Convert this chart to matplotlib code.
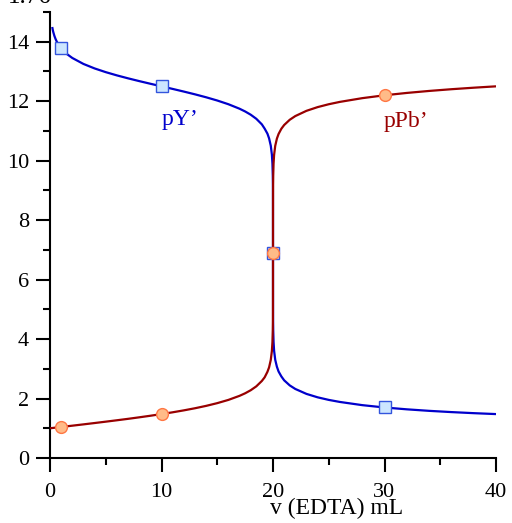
import matplotlib
matplotlib.use("Agg")
import matplotlib.pyplot as plt
from matplotlib.ticker import MultipleLocator

# Volumes of EDTA (mL) and curve values
v_pb = [0, 0.5, 1, 2, 3, 4, 5, 6, 7, 8, 9, 10, 11, 12, 13, 14, 15, 16, 17, 17.5, 18, 18.5,
        19, 19.25, 19.5, 19.65, 19.8, 19.9, 19.95, 19.98, 19.99, 19.995, 19.999, 20,
        20.001, 20.005, 20.01, 20.02, 20.05, 20.1, 20.2, 20.35, 20.5, 20.75, 21, 21.5,
        22, 23, 24, 25, 26, 28, 30, 32, 34, 36, 38, 40]
p_pb = [1.000, 1.022, 1.043, 1.087, 1.131, 1.176, 1.222, 1.269, 1.317, 1.368, 1.421,
        1.477, 1.537, 1.602, 1.673, 1.753, 1.845, 1.954, 2.091, 2.176, 2.279, 2.409,
        2.591, 2.713, 2.898, 3.050, 3.299, 3.601, 3.903, 4.301, 4.602, 4.903, 5.601, 6.900,
        8.199, 8.898, 9.199, 9.500, 9.898, 10.199, 10.500, 10.743, 10.898, 11.074,
        11.199, 11.375, 11.500, 11.676, 11.801, 11.898, 11.977, 12.102, 12.199, 12.278,
        12.345, 12.403, 12.454, 12.500]

v_y = [0.2, 0.25, 0.3, 0.4, 0.5, 0.6, 0.75, 1, 1.5, 2, 3, 4, 5, 6, 7, 8, 9, 10, 11, 12,
       13, 14, 15, 16, 17, 17.5, 18, 18.5, 19, 19.25, 19.5, 19.65, 19.8, 19.9, 19.95,
       19.98, 19.99, 19.995, 19.999, 20,
       20.001, 20.005, 20.01, 20.02, 20.05, 20.1, 20.2, 20.35, 20.5, 20.75, 21, 21.5,
       22, 23, 24, 25, 26, 28, 30, 32, 34, 36, 38, 40]
p_y = [14.496, 14.394, 14.317, 14.190, 14.091, 14.010, 13.909, 13.779, 13.591, 13.454,
       13.253, 13.102, 12.977, 12.868, 12.769, 12.676, 12.587, 12.500, 12.413, 12.324,
       12.231, 12.132, 12.023, 11.898, 11.747, 11.655, 11.546, 11.409, 11.221, 11.078,
       10.909, 10.749, 10.504, 10.201, 9.899, 9.500, 9.199, 8.898, 8.200, 6.900,
       5.601, 4.903, 4.602, 4.301, 3.904, 3.603, 3.303, 3.069, 2.909, 2.743, 2.613,
       2.442, 2.322, 2.156, 2.041, 1.954, 1.885, 1.778, 1.699, 1.637, 1.586, 1.544,
       1.508, 1.477]

# marker points
mark_v = [1, 10, 20, 30]
mark_y = [13.779, 12.500, 6.900, 1.699]
mark_pb = [1.043, 1.477, 6.900, 12.199]

xticks = [0, 10, 20, 30, 40]
yticks = [0, 2, 4, 6, 8, 10, 12, 14]

plt.rcParams['font.family'] = ['Liberation Serif', 'DejaVu Serif']

fig = plt.figure(figsize=(5.12, 5.23), dpi=100)
ax = fig.add_axes([50/512, 1-458/523, (496-50)/512, (458-12)/523])

blue = '#0000cc'
red = '#990000'
ax.plot(v_y, p_y, color=blue, lw=1.6, solid_capstyle='butt', zorder=3)
ax.plot(v_pb, p_pb, color=red, lw=1.6, solid_capstyle='butt', zorder=3)
ax.plot(mark_v, mark_y, ls='none', marker='s', ms=8, mfc='#cce6ff', mec='#3355dd',
        mew=1.0, zorder=4)
ax.plot(mark_v, mark_pb, ls='none', marker='o', ms=8.5, mfc='#ffbb88', mec='#ff7744',
        mew=1.0, zorder=5)

ax.text(10.0, 11.37, 'pY\u2019', color=blue, fontsize=17, va='center', ha='left')
ax.text(29.9, 11.33, 'pPb\u2019', color=red, fontsize=17, va='center', ha='left')

ax.set_xlim(0, 40)
ax.set_ylim(0, 15)
ax.set_xticks(xticks)
ax.set_yticks(yticks)
ax.xaxis.set_minor_locator(MultipleLocator(5))
ax.yaxis.set_minor_locator(MultipleLocator(1))
ax.spines['top'].set_visible(False)
ax.spines['right'].set_visible(False)
for s in ('left', 'bottom'):
    ax.spines[s].set_linewidth(1.5)
ax.tick_params(axis='both', which='major', direction='out', length=10, width=1.5,
               labelsize=16)
ax.tick_params(axis='both', which='minor', direction='out', length=5, width=1.5)
ax.tick_params(axis='x', which='major', pad=8)
ax.tick_params(axis='y', which='major', pad=5)
ax.patch.set_visible(False)

fig.text(337/512, 1-508/523, 'v (EDTA) mL', fontsize=17, ha='center', va='center')
fig.text(8/512, 1-3/523, '1.76', fontsize=18, ha='left', va='baseline')

fig.savefig('out.png', dpi=100)
